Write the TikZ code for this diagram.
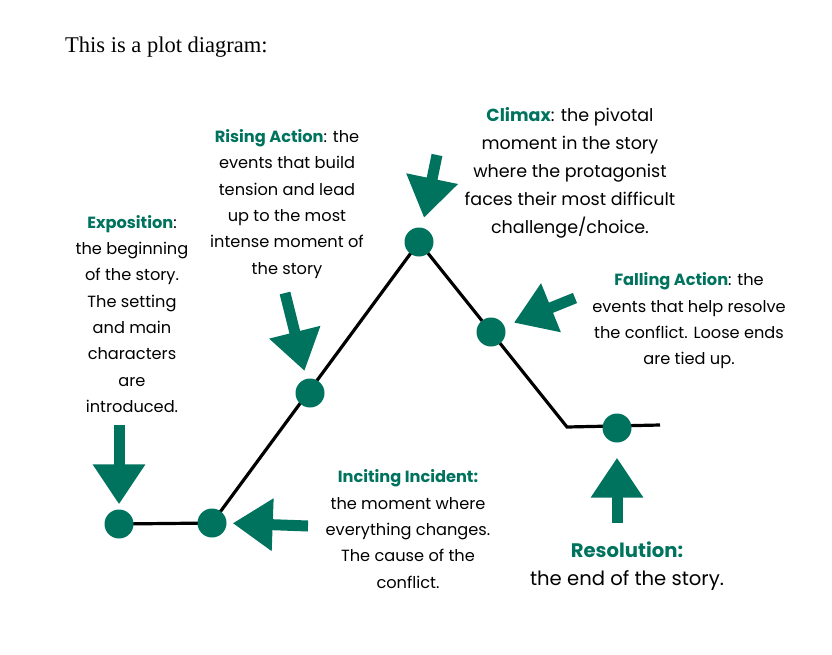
\documentclass[tikz,border=0pt]{standalone}
\usepackage{fontspec}
\setmainfont{Poppins}
\newfontfamily\titlefont{Liberation Serif}
\usetikzlibrary{arrows.meta,backgrounds}
\definecolor{plotgreen}{HTML}{00735E}
\tikzset{
  dot/.style={circle, fill=plotgreen, minimum size=29pt, inner sep=0pt},
  plotline/.style={line width=3.2pt, black},
  bigarrow/.style={draw=plotgreen, line width=11pt, -{Triangle[length=40pt, width=50pt]}},
  label/.style={align=center, inner sep=0pt, font=\fontsize{16.2}{26.3}\selectfont, text=black},
}
\begin{document}
\begin{tikzpicture}[x=1pt, y=-1pt]
\useasboundingbox (0,0) rectangle (832,654);
% title
\node[anchor=west, inner sep=0pt, font=\titlefont\fontsize{22.5}{24}\selectfont] (title) at (65,47) {This is a plot diagram:};
% line points
\coordinate (corner) at (567,427);
\coordinate (finish) at (660,425);
% dots
\node[dot] (E) at (119,524) {};
\node[dot] (I) at (212,523) {};
\node[dot] (R) at (310,393) {};
\node[dot] (C) at (419,242) {};
\node[dot] (F) at (491,332) {};
\node[dot] (S) at (617,428) {};
\begin{scope}[on background layer]
\draw[plotline, line join=miter] (E.center) -- (I.center) -- (C.center) -- (corner) -- (finish);
\end{scope}
% arrow tails
\coordinate (Et) at (119,425);
\coordinate (It) at (308,526);
\coordinate (Rt) at (285,293);
\coordinate (Ct) at (437,155);
\coordinate (Ft) at (575,298);
\coordinate (St) at (617,523);
\draw[bigarrow, shorten >=5pt] (Et) -- (E.north);
\draw[bigarrow, shorten >=6pt] (It) -- (I.east);
\draw[bigarrow, shorten >=8pt] (Rt) -- (R);
\draw[bigarrow, shorten >=10pt] (Ct) -- (C);
\draw[bigarrow, shorten >=10pt] (Ft) -- (F);
\draw[bigarrow, shorten >=15pt] (St) -- (S.south);
% labels
\node[label] (Ex) at (132,314) {{\color{plotgreen}\bfseries Exposition}:\\the beginning\\of the story.\\The setting\\and main\\characters\\are\\introduced.};
\node[label] (Ri) at (287,204) {{\color{plotgreen}\bfseries Rising Action}: the\\events that build\\tension and lead\\up to the most\\intense moment of\\the story};
\node[label, font=\fontsize{17.5}{28}\selectfont] (Cl) at (570,173) {{\color{plotgreen}\bfseries Climax}: the pivotal\\moment in the story\\where the protagonist\\faces their most difficult\\challenge/choice.};
\node[label] (Fa) at (689,321) {{\color{plotgreen}\bfseries Falling Action}: the\\events that help resolve\\the conflict. Loose ends\\are tied up.};
\node[label] (In) at (408,529) {{\color{plotgreen}\bfseries Inciting Incident:}\\the moment where\\everything changes.\\The cause of the\\conflict.};
\node[label, font=\fontsize{19.6}{22}\selectfont\bfseries, text=plotgreen] (Re) at (627,550) {Resolution:};
\node[label, font=\fontsize{19.6}{22}\selectfont] (Re2) at (627,581) {the end of the story.};
\end{tikzpicture}
\end{document}
